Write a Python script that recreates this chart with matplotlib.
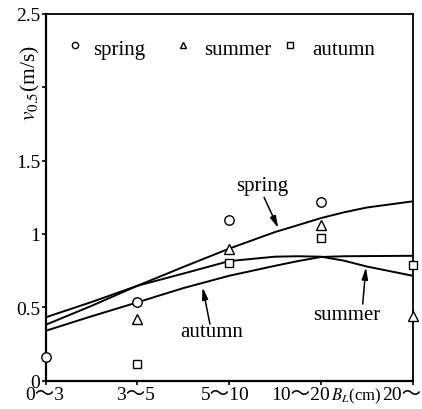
import matplotlib
matplotlib.use("Agg")
import matplotlib.pyplot as plt
import numpy as np
from matplotlib.transforms import ScaledTranslation, blended_transform_factory

plt.rcParams['font.family'] = ['Liberation Serif', 'Noto Sans CJK SC', 'DejaVu Sans']
plt.rcParams['mathtext.fontset'] = 'stix'

# ---- data ----
categories = ["0～3", "3～5", "5～10", "10～20", "20～"]
cat_pos = [0, 1, 2, 3, 4]

spring_x = [0, 1, 2, 3]
spring_y = [0.159, 0.534, 1.095, 1.216]
summer_x = [1, 2, 3, 4]
summer_y = [0.42, 0.897, 1.063, 0.443]
autumn_x = [1, 2, 3, 4]
autumn_y = [0.114, 0.80, 0.97, 0.788]

curve_x = [0, 0.5, 1, 1.5, 2, 2.5, 2.75, 3, 3.25, 3.5, 4]
spring_curve = [0.381, 0.51, 0.647, 0.775, 0.90, 1.013, 1.06, 1.108, 1.147, 1.18, 1.222]
summer_curve = [0.432, 0.536, 0.647, 0.73, 0.815, 0.845, 0.848, 0.845, 0.818, 0.778, 0.715]
autumn_curve = [0.34, 0.439, 0.534, 0.631, 0.715, 0.783, 0.815, 0.843, 0.848, 0.849, 0.851]

yticks = [0, 0.5, 1, 1.5, 2, 2.5]
ytick_labels = ["0", "0.5", "1", "1.5", "", "2.5"]

fig = plt.figure(figsize=(4.22, 4.10), dpi=100)
ax = fig.add_axes([0.1083, 0.069, 0.8697, 0.895])

for cy in (spring_curve, summer_curve, autumn_curve):
    ax.plot(curve_x, cy, color='black', lw=1.4, solid_capstyle='butt', clip_on=False)

mk = dict(linestyle='none', mfc='white', mec='black', mew=1.0, clip_on=False, zorder=5)
ax.plot(spring_x, spring_y, marker='o', ms=6.8, **mk)
ax.plot(summer_x, summer_y, marker='^', ms=6.8, **mk)
ax.plot(autumn_x, autumn_y, marker='s', ms=6.2, **mk)

ax.set_xlim(0, 4)
ax.set_ylim(0, 2.5)
ax.set_xticks(cat_pos)
ax.set_xticklabels([""] * len(cat_pos))
# category labels drawn as texts (some are shifted left as in the original)
offsets_px = [-1, -2, -4, -20, -11]
btr = blended_transform_factory(ax.transData, ax.transAxes)
for pos, lab, dx in zip(cat_pos, categories, offsets_px):
    ax.text(pos, 0, lab, fontsize=14, ha='center', va='top', clip_on=False,
            transform=btr + ScaledTranslation(dx / 100, -5 / 100, fig.dpi_scale_trans))
ax.set_yticks(yticks)
ax.set_yticklabels(ytick_labels, fontsize=14)
ax.tick_params(direction='out', length=3, width=1.2, pad=1)

for s in ('left', 'bottom'):
    ax.spines[s].set_linewidth(1.6)
for s in ('top', 'right'):
    ax.spines[s].set_linewidth(1.3)

# y label
ax.text(-0.041, 0.813, r"$v_{\mathrm{0.5}}$(m/s)", transform=ax.transAxes, rotation=90,
        ha='center', va='center', fontsize=15.5)
# x label
fig.text(356 / 422, 1 - 396 / 410, r"$B_L$(cm)", ha='center', va='center', fontsize=12)

# legend
leg_tr = ax.transAxes
ax.plot([0.080], [0.915], marker='o', ms=4.5, mfc='white', mec='black', mew=1.0,
        transform=leg_tr, clip_on=False)
ax.text(0.130, 0.890, "spring", transform=leg_tr, fontsize=15, va='baseline')
ax.plot([0.375], [0.915], marker='^', ms=4.5, mfc='white', mec='black', mew=1.0,
        transform=leg_tr, clip_on=False)
ax.text(0.431, 0.890, "summer", transform=leg_tr, fontsize=15, va='baseline')
ax.plot([0.666], [0.915], marker='s', ms=4.2, mfc='white', mec='black', mew=1.0,
        transform=leg_tr, clip_on=False)
ax.text(0.725, 0.890, "autumn", transform=leg_tr, fontsize=15, va='baseline')

# annotations
ap = dict(arrowstyle='-|>,head_length=0.7,head_width=0.18', color='black', lw=1.1,
          shrinkA=0, shrinkB=0)
ax.text(2.354, 1.301, "spring", fontsize=15, ha='center', va='baseline')
ax.annotate("", xy=(2.535, 1.04), xytext=(2.38, 1.249), arrowprops=ap)
ax.text(1.81, 0.3065, "autumn", fontsize=15, ha='center', va='baseline')
ax.annotate("", xy=(1.71, 0.636), xytext=(1.79, 0.386), arrowprops=ap)
ax.text(3.284, 0.42, "summer", fontsize=15, ha='center', va='baseline')
ax.annotate("", xy=(3.49, 0.772), xytext=(3.455, 0.522), arrowprops=ap)

fig.savefig("out.png", dpi=100)
